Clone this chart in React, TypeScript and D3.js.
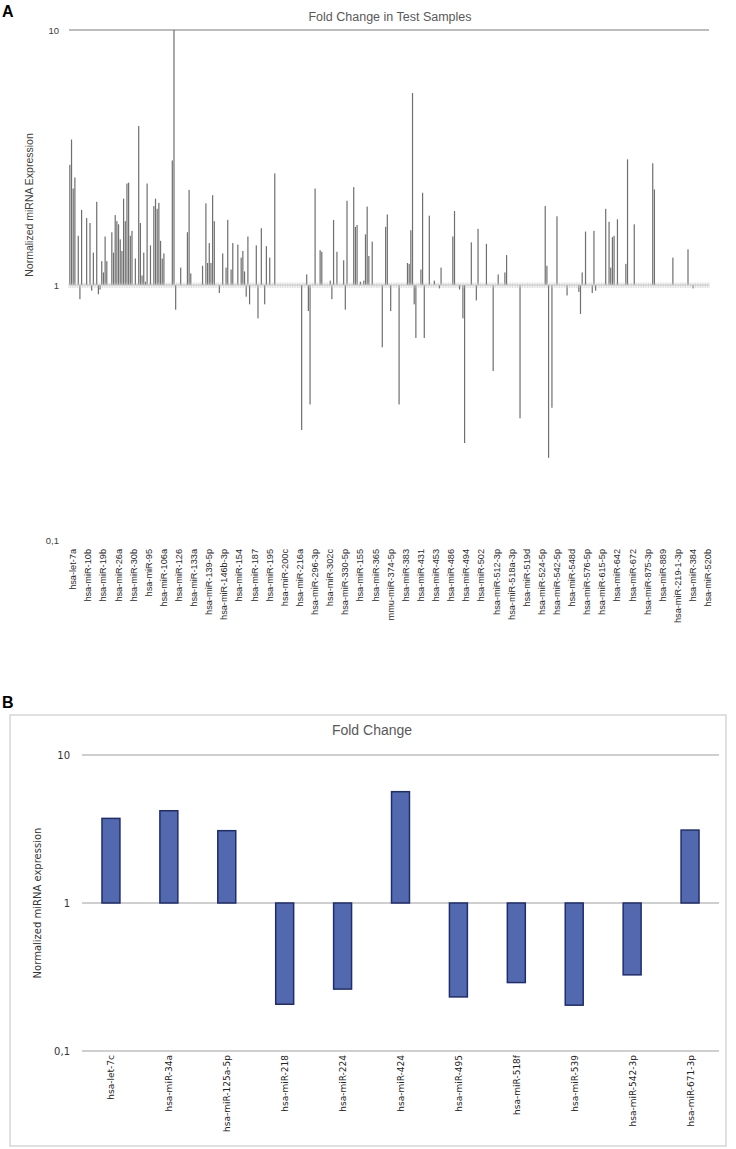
import React from 'react';
import * as d3 from 'd3';

// ---------- Panel A data ----------
const titleA = 'Fold Change in Test Samples';
const yTitleA = 'Normalized miRNA Expression';
const categoryCountA = 381;
const labelStartA = 2;
const labelStepA = 9;
const labelsA = [
  'hsa-let-7a', 'hsa-miR-10b', 'hsa-miR-19b', 'hsa-miR-26a', 'hsa-miR-30b', 'hsa-miR-95',
  'hsa-miR-106a', 'hsa-miR-126', 'hsa-miR-133a', 'hsa-miR-139-5p', 'hsa-miR-146b-3p',
  'hsa-miR-154', 'hsa-miR-187', 'hsa-miR-195', 'hsa-miR-200c', 'hsa-miR-216a',
  'hsa-miR-296-3p', 'hsa-miR-302c', 'hsa-miR-330-5p', 'hsa-miR-155', 'hsa-miR-365',
  'mmu-miR-374-5p', 'hsa-miR-383', 'hsa-miR-431', 'hsa-miR-453', 'hsa-miR-486',
  'hsa-miR-494', 'hsa-miR-502', 'hsa-miR-512-3p', 'hsa-miR-518a-3p', 'hsa-miR-519d',
  'hsa-miR-524-5p', 'hsa-miR-542-5p', 'hsa-miR-548d', 'hsa-miR-576-5p', 'hsa-miR-615-5p',
  'hsa-miR-642', 'hsa-miR-672', 'hsa-miR-875-3p', 'hsa-miR-889', 'hsa-miR-219-1-3p',
  'hsa-miR-384', 'hsa-miR-520b',
];
// [category index, fold change] ; categories not listed sit at 1 (no bar)
const barsA: [number, number][] = [
  [0, 2.96], [1, 3.72], [2, 2.39], [3, 2.64], [5, 1.56], [6, 0.88], [7, 1.97], [10, 1.83],
  [12, 1.75], [13, 0.95], [14, 1.34], [16, 2.12], [17, 0.92], [18, 0.96], [19, 1.24],
  [20, 1.12], [21, 1.55], [22, 1.24], [25, 1.61], [26, 1.34], [27, 1.88], [28, 1.78],
  [29, 1.73], [30, 1.51], [31, 1.36], [32, 2.18], [33, 1.78], [34, 2.5], [35, 2.52],
  [36, 1.56], [37, 1.63], [39, 1.27], [41, 4.2], [42, 1.75], [43, 1.09], [44, 1.34],
  [45, 1.03], [46, 2.5], [48, 1.43], [50, 2.04], [51, 2.18], [52, 1.99], [53, 2.1],
  [54, 1.49], [55, 1.27], [56, 1.33], [61, 3.08], [62, 10], [63, 0.8], [66, 1.17],
  [70, 1.61], [71, 2.36], [72, 1.11], [79, 1.19], [81, 2.09], [82, 1.22], [83, 1.46],
  [84, 1.22], [85, 2.25], [86, 1.78], [89, 0.93], [91, 1.33], [93, 1.17], [94, 1.8],
  [96, 1.15], [97, 1.46], [100, 1.44], [102, 1.28], [103, 1.36], [104, 1.13], [105, 0.9],
  [106, 1.55], [107, 0.84], [111, 1.43], [112, 0.74], [114, 1.67], [116, 0.84], [117, 1.42],
  [119, 1.28], [122, 2.74], [138, 0.27], [141, 1.1], [142, 0.79], [143, 0.34], [146, 2.39],
  [149, 1.37], [150, 1.35], [155, 1.04], [156, 0.88], [157, 1.8], [159, 1.35], [163, 1.25],
  [164, 0.8], [165, 2.14], [169, 2.42], [170, 1.69], [171, 1.72], [173, 1.03], [175, 1.04],
  [176, 1.58], [177, 2.03], [178, 1.3], [180, 1.48], [186, 0.57], [188, 1.69], [189, 1.89],
  [191, 0.79], [196, 0.34], [201, 1.22], [202, 1.21], [203, 1.64], [204, 5.66], [205, 0.84],
  [206, 0.62], [209, 1.15], [210, 2.3], [211, 0.62], [214, 1.87], [217, 1.04], [220, 0.97],
  [221, 1.17], [228, 1.55], [229, 1.95], [232, 0.96], [234, 0.74], [235, 0.24], [239, 1.47],
  [242, 0.87], [243, 1.66], [248, 1.45], [252, 0.46], [255, 1.1], [259, 1.12], [260, 1.31],
  [268, 0.3], [283, 2.04], [284, 1.19], [285, 0.21], [287, 0.33], [290, 1.86], [296, 0.91],
  [303, 0.94], [304, 0.77], [305, 1.12], [307, 1.62], [311, 0.93], [312, 1.63], [313, 0.95],
  [319, 1.99], [321, 1.77], [322, 1.17], [323, 1.54], [324, 1.56], [326, 1.81], [331, 1.21],
  [332, 3.11], [336, 1.73], [347, 3.0], [348, 2.37], [359, 1.28], [368, 1.38], [371, 0.97],
];
const yTicks = [10, 1, 0.1];
const yTickLabels = ['10', '1', '0,1'];

// ---------- Panel B data ----------
const titleB = 'Fold Change';
const yTitleB = 'Normalized miRNA expression';
const categoriesB = [
  'hsa-let-7c', 'hsa-miR-34a', 'hsa-miR-125a-5p', 'hsa-miR-218', 'hsa-miR-224', 'hsa-miR-424',
  'hsa-miR-495', 'hsa-miR-518f', 'hsa-miR-539', 'hsa-miR-542-3p', 'hsa-miR-671-3p',
];
const valuesB = [3.73, 4.2, 3.08, 0.207, 0.262, 5.65, 0.232, 0.29, 0.204, 0.327, 3.11];

const calibriLike = '"Liberation Sans", Arial, sans-serif';
const verdanaLike = '"DejaVu Sans", Verdana, sans-serif';

function PanelA() {
  const xA = d3.scaleBand<number>().domain(d3.range(categoryCountA)).range([69, 709]);
  const yA = d3.scaleLog().domain([0.1, 10]).range([540, 30]);
  const bw = xA.bandwidth();
  const base = yA(1);
  return (
    <g>
      <text x={2} y={17} fontFamily={calibriLike} fontWeight="bold" fontSize={16} fill="#000">A</text>
      <text x={390} y={21} textAnchor="middle" fontFamily={calibriLike} fontSize={12.5} fill="#595959">{titleA}</text>
      <line x1={69} x2={709} y1={yA(10)} y2={yA(10)} stroke="#a6a6a6" strokeWidth={1.5} />
      {yTicks.map((t, k) => (
        <text key={t} x={59} y={yA(t) + 3.5} textAnchor="end" fontFamily={calibriLike} fontSize={9.5} fill="#404040">
          {yTickLabels[k]}
        </text>
      ))}
      <text transform={`translate(33,205) rotate(-90)`} textAnchor="middle" fontFamily={calibriLike} fontSize={10.5} fill="#404040">
        {yTitleA}
      </text>
      {barsA.map(([i, v]) => {
        const x = (xA(i) as number) + bw / 2 - 0.6;
        const yv = yA(v);
        return <rect key={i} x={x} y={Math.min(base, yv)} width={1.2} height={Math.abs(base - yv)} fill="#6f6f6f" />;
      })}
      <line x1={69} x2={709} y1={base} y2={base} stroke="#c4c4c4" strokeWidth={1} />
      {d3.range(categoryCountA + 1).map((i) => {
        const x = i < categoryCountA ? (xA(i) as number) : 709;
        return <line key={i} x1={x} x2={x} y1={base - 2.5} y2={base + 3} stroke="#c8c8c8" strokeWidth={0.6} />;
      })}
      {labelsA.map((l, k) => {
        const i = labelStartA + k * labelStepA;
        const cx = (xA(i) as number) + bw / 2;
        return (
          <text key={l} transform={`translate(${cx + 3},549) rotate(-90)`} textAnchor="end" fontFamily={calibriLike} fontSize={9.2} fill="#2b2b2b">
            {l}
          </text>
        );
      })}
    </g>
  );
}

function PanelB() {
  const xB = d3.scaleBand<string>().domain(categoriesB).range([82, 719]).paddingInner(0.69).paddingOuter(0.345);
  const yB = d3.scaleLog().domain([0.1, 10]).range([1051, 755]);
  const base = yB(1);
  return (
    <g>
      <text x={2} y={708} fontFamily={calibriLike} fontWeight="bold" fontSize={16} fill="#000">B</text>
      <rect x={10} y={715} width={716} height={431} fill="none" stroke="#d6d6d6" strokeWidth={1.5} />
      <text x={372} y={735} textAnchor="middle" fontFamily={calibriLike} fontSize={14} fill="#595959">{titleB}</text>
      {yTicks.map((t, k) => (
        <g key={t}>
          <line x1={82} x2={719} y1={yB(t)} y2={yB(t)} stroke="#bfbfbf" strokeWidth={1.5} />
          <text x={70} y={yB(t) + 4} textAnchor="end" fontFamily={verdanaLike} fontSize={10} fill="#333">
            {yTickLabels[k]}
          </text>
        </g>
      ))}
      <text transform={`translate(41,${base}) rotate(-90)`} textAnchor="middle" fontFamily={verdanaLike} fontSize={10} fill="#333">
        {yTitleB}
      </text>
      {categoriesB.map((c, k) => {
        const v = valuesB[k];
        const yv = yB(v);
        return (
          <rect key={c} x={xB(c)} y={Math.min(base, yv)} width={xB.bandwidth()} height={Math.abs(base - yv)}
            fill="#5269b0" stroke="#1f2d6e" strokeWidth={1.5} />
        );
      })}
      {categoriesB.map((c) => {
        const cx = (xB(c) as number) + xB.bandwidth() / 2;
        return (
          <text key={c} transform={`translate(${cx + 3.5},1055) rotate(-90)`} textAnchor="end" fontFamily={verdanaLike} fontSize={9} fill="#222">
            {c}
          </text>
        );
      })}
    </g>
  );
}

export default function App() {
  return (
    <svg width={736} height={1149} style={{ position: 'absolute', left: 0, top: 0, background: '#fff' }}>
      <rect x={0} y={0} width={736} height={1149} fill="#fff" />
      <PanelA />
      <PanelB />
    </svg>
  );
}
